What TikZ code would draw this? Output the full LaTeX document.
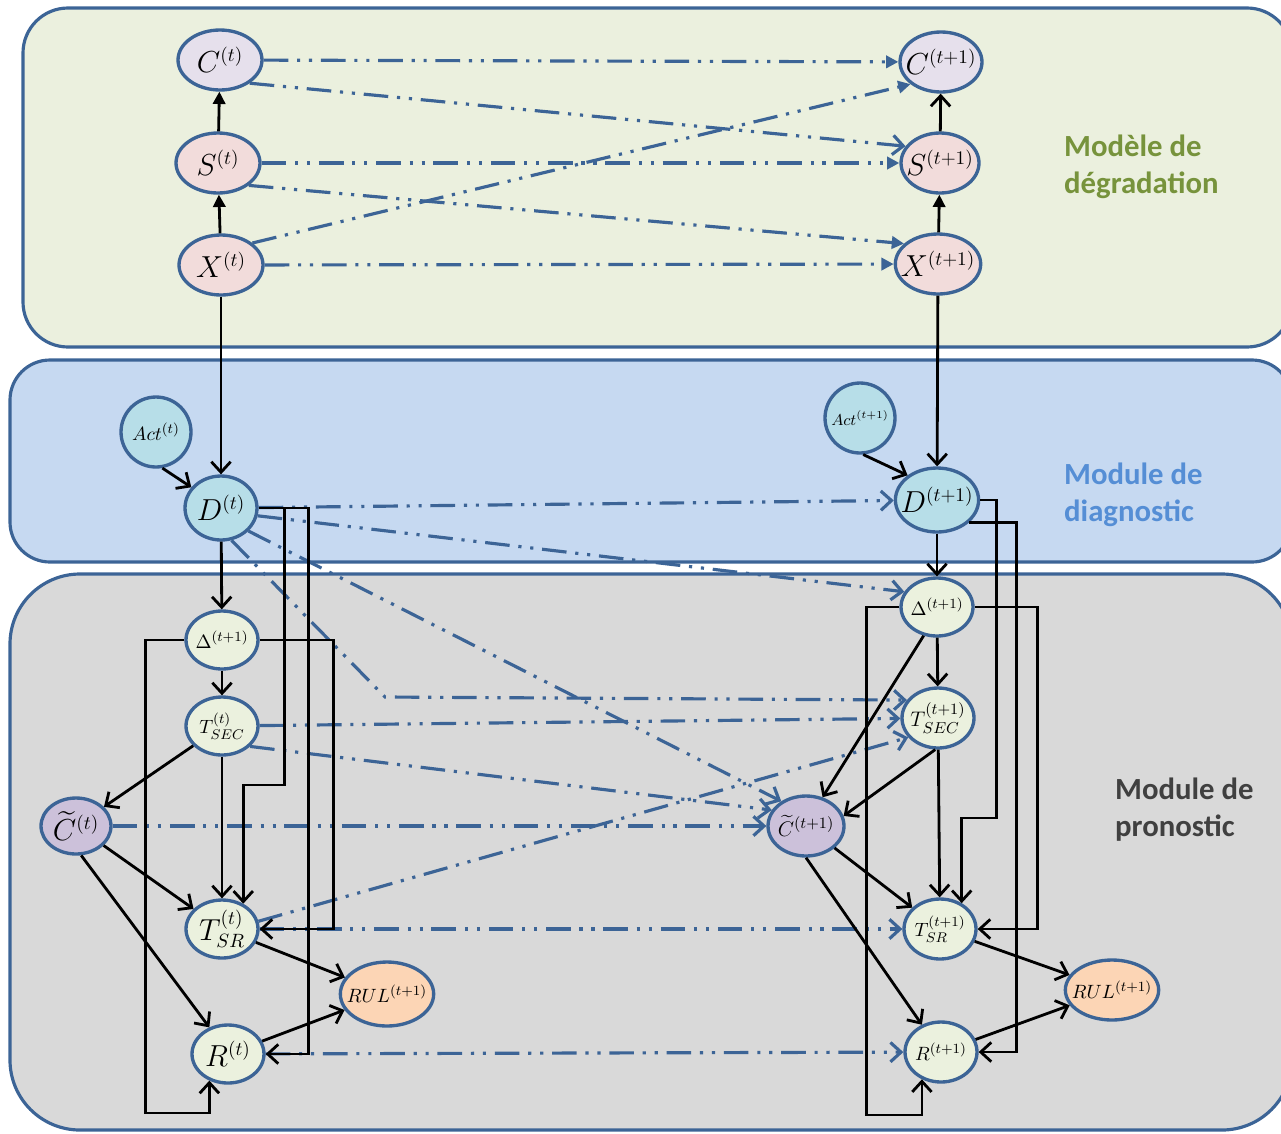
\documentclass[tikz,border=0pt]{standalone}
\usepackage{amsmath}
\usepackage{fontspec}
\newfontfamily\labelfont{Carlito}
\usepackage{tikz}
\usetikzlibrary {arrows.meta,
                 shapes.geometric}
\definecolor{bordblue}{HTML}{3C6496}
\definecolor{panelgreen}{HTML}{EBF0DE}
\definecolor{panelblue}{HTML}{C6D9F1}
\definecolor{panelgray}{HTML}{D9D9D9}
\definecolor{fillC}{HTML}{E6E0EC}
\definecolor{fillpink}{HTML}{F2DCDB}
\definecolor{fillcyan}{HTML}{B7DEE8}
\definecolor{fillpale}{HTML}{EBF1DE}
\definecolor{fillviolet}{HTML}{CCC1DA}
\definecolor{fillorange}{HTML}{FCD5B5}
\definecolor{txtgreen}{HTML}{77933C}
\definecolor{txtblue}{HTML}{558ED5}
\definecolor{txtgray}{HTML}{404040}
\tikzset{
        var/.style={ellipse, draw=bordblue, line width=1.9pt, inner sep=-4pt,
                    font=\fontsize{16}{18}\selectfont},
        smalltxt/.style={font=\fontsize{11}{13}\selectfont},
        condvar/.style={var, fill=fillC, minimum width=1.68cm, minimum height=1.2cm},
        degvar/.style={var, fill=fillpink, minimum width=1.68cm, minimum height=1.2cm},
        actvar/.style={var, circle, fill=fillcyan, minimum size=1.4cm, smalltxt},
        diagvar/.style={var, fill=fillcyan, minimum width=1.44cm, minimum height=1.28cm},
        progvar/.style={var, fill=fillpale, minimum width=1.44cm, minimum height=1.16cm},
        estvar/.style={var, fill=fillviolet, minimum width=1.4cm, minimum height=1.12cm},
        rulvar/.style={var, fill=fillorange, minimum width=1.76cm, minimum height=1.28cm, smalltxt},
        panel/.style={draw=bordblue, line width=1.8pt},
        modlabel/.style={align=left, anchor=west,
                         font=\labelfont\bfseries\fontsize{17.5}{21}\selectfont},
        myarrow/.style={-{Straight Barb[length=6pt,width=11pt]}, line width=1.6pt},
        mytri/.style={-{Triangle[length=7pt,width=7pt]}, line width=1.6pt},
        tdash/.style={bordblue, line width=1.8pt,
                      dash pattern=on 14pt off 5pt on 1.8pt off 5pt on 1.8pt off 5pt},
        tlink/.style={tdash, -{Straight Barb[length=6pt,width=11pt]}},
        ttri/.style={tdash, -{Triangle[length=7pt,width=7pt]}},
 }
\begin{document}
\begin{tikzpicture}[x=0.02cm, y=-0.02cm]
    \useasboundingbox (0,0) rectangle (1281,1133);
    \clip (0,0) rectangle (1281,1133);

    % panels
    \draw[panel, fill=panelgreen, rounded corners=0.9cm] (23,8) rectangle (1292,347);
    \draw[panel, fill=panelblue, rounded corners=0.8cm] (10,360) rectangle (1292,562);
    \draw[panel, fill=panelgray, rounded corners=1.4cm] (10,574) rectangle (1292,1130);

    \node[modlabel, text=txtgreen] (ldeg) at (1058,167) {Modèle de\\dégradation};
    \node[modlabel, text=txtblue] (ldiag) at (1058,495) {Module de\\diagnostic};
    \node[modlabel, text=txtgray] (lprog) at (1109,810) {Module de\\pronostic};

    % degradation model
    \node[condvar] (Ct) at (220,60) {$C^{(t)}$};
    \node[degvar] (St) at (218,163) {$S^{(t)}$};
    \node[degvar] (Xt) at (221,265) {$X^{(t)}$};
    \node[condvar, minimum width=1.64cm] (Ct1) at (941,62) {$C^{(t+1)}$};
    \node[degvar, minimum width=1.56cm] (St1) at (940,163) {$S^{(t+1)}$};
    \node[degvar, minimum width=1.6cm] (Xt1) at (938,264) {$X^{(t+1)}$};

    % diagnostic
    \node[actvar] (At) at (156,432) {$Act^{(t)}$};
    \node[actvar, font=\fontsize{9}{11}\selectfont] (At1) at (860,418) {$Act^{(t+1)}$};
    \node[diagvar] (Dt) at (221,508) {$D^{(t)}$};
    \node[diagvar] (Dt1) at (937,500) {$D^{(t+1)}$};

    % prognostic
    \node[progvar, smalltxt] (Dl) at (222,640) {$\Delta^{(t+1)}$};
    \node[progvar, smalltxt] (Tsec) at (222,726) {$T_{SEC}^{(t)}$};
    \node[estvar] (Cest) at (76,826) {$\widetilde{C}^{(t)}$};
    \node[progvar] (Tsr) at (222,929) {$T_{SR}^{(t)}$};
    \node[rulvar] (RULt) at (387,994) {$RUL^{(t+1)}$};
    \node[progvar] (Rt) at (228,1054) {$R^{(t)}$};

    \node[progvar, smalltxt] (Dl1) at (937,607) {$\Delta^{(t+1)}$};
    \node[progvar, font=\fontsize{13}{15}\selectfont, minimum height=1.2cm] (Tsec1) at (938,718) {$T_{SEC}^{(t+1)}$};
    \node[estvar, font=\fontsize{13}{15}\selectfont, minimum width=1.52cm, minimum height=1.2cm] (Cest1) at (806,826) {$\widetilde{C}^{(t+1)}$};
    \node[progvar, smalltxt, minimum height=1.2cm] (Tsr1) at (940,929) {$T_{SR}^{(t+1)}$};
    \node[rulvar, minimum width=1.8cm, minimum height=1.2cm] (RULt1) at (1112,990) {$RUL^{(t+1)}$};
    \node[progvar, smalltxt, minimum height=1.2cm] (Rt1) at (941,1052) {$R^{(t+1)}$};

    % temporal links
    \draw[ttri] (Ct) -- (Ct1);
    \draw[tlink] (Ct.-38) -- (St1.154);
    \draw[ttri] (St) -- (St1);
    \draw[ttri] (St.-36) -- (Xt1.149);
    \draw[ttri] (Xt.35) -- (Ct1.-144);
    \draw[ttri] (Xt) -- (Xt1);

    \draw[tlink] (Dt) -- (Dt1);
    \draw[tlink] (Dt.-12) -- (Dl1.155);
    \draw[tlink] (Dt.-40) -- (Cest1.135);
    \draw[tlink] (Dt.-72) -- (385,697) -- (Tsec1.150);
    \draw[tlink] (Tsec) -- (Tsec1);
    \draw[tlink] (Tsec.-36) -- (Cest1.155);
    \draw[tlink] (Cest) -- (Cest1);
    \draw[tlink] (Tsr.12) -- (Tsec1.213);
    \draw[tlink] (Tsr) -- (Tsr1);
    \draw[tlink] (Rt) -- (Rt1);

    % slice t
    \draw[mytri] (St) -- (Ct);
    \draw[mytri] (Xt) -- (St);
    \draw[myarrow] (Xt) -- (Dt);
    \draw[myarrow] (At.-80) -- (Dt.145);
    \draw[myarrow] (Dt) -- (Dl);
    \draw[myarrow] (Dl) -- (Tsec);
    \draw[myarrow] (Tsec) -- (Cest);
    \draw[myarrow] (Tsec) -- (Tsr);
    \draw[myarrow] (Cest) -- (Tsr);
    \draw[myarrow] (Cest.-80) -- (Rt.125);
    \draw[myarrow] (Tsr) -- (RULt);
    \draw[myarrow] (Rt) -- (RULt);
    \draw[myarrow] (Dt.east) -- ++(50,0) |- (Rt.east);
    \draw[myarrow] (Dt.east) -- ++(26,0) -- ++(0,277) -| (Tsr.50);
    \draw[myarrow] (Dl.west) -- ++(-39,0) -- ++(0,473) -| (Rt.-125);
    \draw[myarrow] (Dl.east) -- ++(74,0) |- (Tsr.east);

    % slice t+1
    \draw[myarrow] (St1) -- (Ct1);
    \draw[mytri] (Xt1) -- (St1);
    \draw[myarrow] (Xt1) -- (Dt1);
    \draw[myarrow] (At1.-85) -- (Dt1.140);
    \draw[myarrow] (Dt1) -- (Dl1);
    \draw[myarrow] (Dl1) -- (Tsec1);
    \draw[myarrow] (Dl1.-115) -- (Cest1.60);
    \draw[myarrow] (Tsec1.-95) -- (Cest1.15);
    \draw[myarrow] (Tsec1) -- (Tsr1);
    \draw[myarrow] (Cest1) -- (Tsr1);
    \draw[myarrow] (Cest1.-90) -- (Rt1.125);
    \draw[myarrow] (Tsr1) -- (RULt1);
    \draw[myarrow] (Rt1) -- (RULt1);
    \draw[myarrow] (Dt1.east) -- ++(16,0) -- ++(0,318) -| (Tsr1.50);
    \draw[myarrow] (Dt1.-35) -- ++(47,0) |- (Rt1.east);
    \draw[myarrow] (Dl1.west) -- ++(-33,0) -- ++(0,508) -| (Rt1.-125);
    \draw[myarrow] (Dl1.east) -- ++(63,0) |- (Tsr1.east);
\end{tikzpicture}
\end{document}
